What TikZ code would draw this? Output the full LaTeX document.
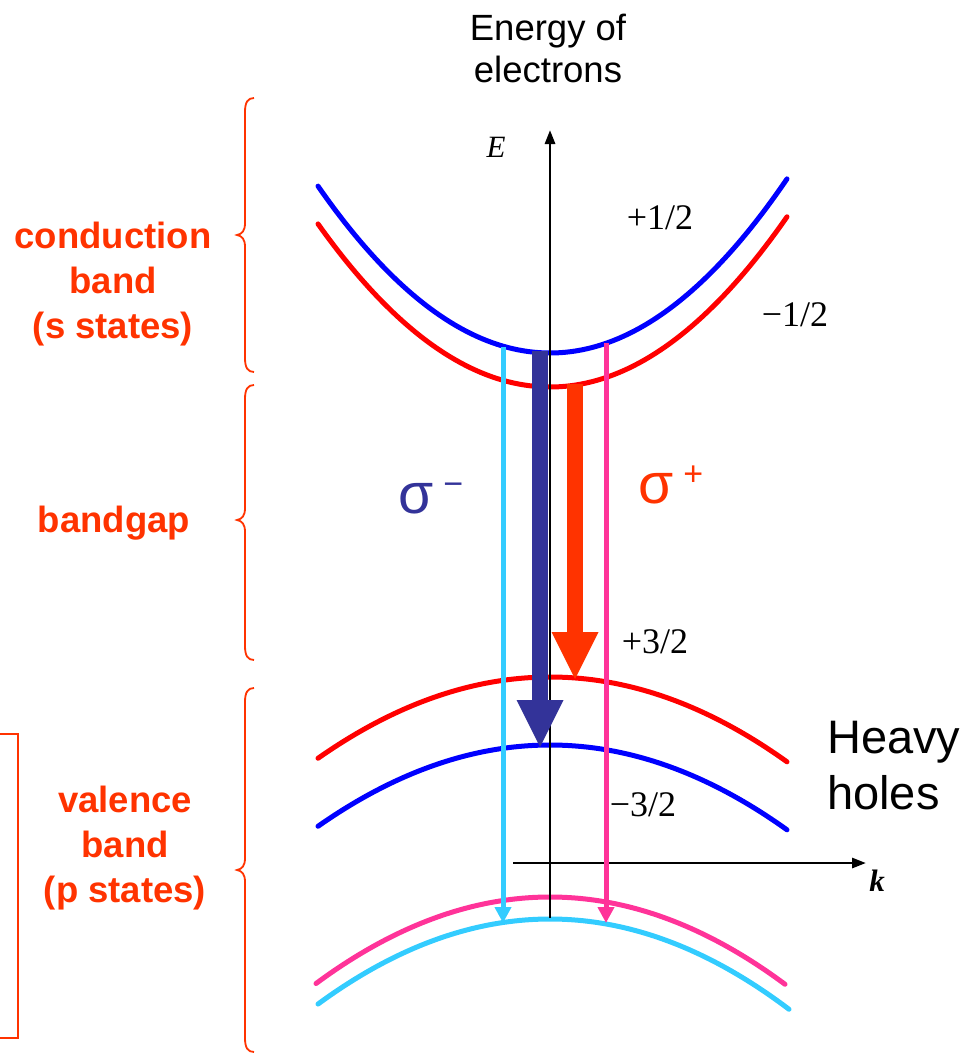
\documentclass[tikz,border=0pt]{standalone}
\usepackage{fontspec}
\setmainfont{Liberation Serif}
\newfontfamily\arialfam{Liberation Sans}
\usetikzlibrary{arrows.meta}
\definecolor{lblorange}{HTML}{FF3300}
\definecolor{sigblue}{HTML}{333399}
\definecolor{lhcyan}{HTML}{33CCFF}
\definecolor{lhpink}{HTML}{FF3399}
\newcommand\bandbrace[3]{% top, tip, bottom
  \draw[bracestyle] (254,#1) .. controls (248,#1) and (245,{#1+4}) .. (245,{#1+14})
    -- (245,{#2-12}) .. controls (245,{#2-4}) and (242,{#2-1}) .. (237,#2)
    .. controls (242,{#2+1}) and (245,{#2+4}) .. (245,{#2+12})
    -- (245,{#3-14}) .. controls (245,{#3-4}) and (248,#3) .. (254,#3);}
\begin{document}
\begin{tikzpicture}[x=1pt,y=-1pt,
  band/.style={line width=5pt, line cap=round},
  bracestyle/.style={draw=lblorange, line width=1.8pt},
  bandlabel/.style={text=lblorange, font=\arialfam\bfseries\fontsize{36.5}{45}\selectfont, align=center, inner sep=0pt},
  spinlabel/.style={font=\fontsize{36}{40}\selectfont, inner sep=0pt},
  axisline/.style={line width=2.8pt, -{Triangle[length=14pt,width=10pt]}},
  thinarrow/.style={line width=5pt, -{Triangle[length=16pt,width=16pt]}},
  thickarrow/.style={line width=16pt, -{Triangle[length=47pt,width=47pt,line width=0pt]}}
]
\useasboundingbox (0,0) rectangle (967,1057);

% braces and bracket
\bandbrace{98}{235}{372}
\bandbrace{385}{520}{660}
\bandbrace{688}{870}{1052}
\draw[bracestyle] (0,734) -- (18,734) -- (18,1038) -- (0,1038);

% labels on the left
\node[bandlabel] (cb) at (113,284) {conduction\\band\\(s states)};
\node[bandlabel] (bg) at (114,523) {bandgap};
\node[bandlabel] (vb) at (125,848) {valence\\band\\(p states)};

% title
\node[font=\arialfam\fontsize{36.5}{42}\selectfont, align=center, inner sep=0pt] (title) at (548,48) {Energy of\\electrons};

% bands
\draw[band, blue] plot[domain=318:787, samples=90] (\x, {353-31*((\x-550)/100)*((\x-550)/100)});
\draw[band, red] plot[domain=318:787, samples=90] (\x, {387-30.3*((\x-550)/100)*((\x-550)/100)});
\draw[band, red] plot[domain=318:787, samples=90] (\x, {677+15.1*((\x-550)/100)*((\x-550)/100)});
\draw[band, blue] plot[domain=318:787, samples=90] (\x, {745+15.1*((\x-550)/100)*((\x-550)/100)});
\draw[band, lhpink] plot[domain=316:785, samples=90] (\x, {897+15.8*((\x-550)/100)*((\x-550)/100)});
\draw[band, lhcyan] plot[domain=318:789, samples=90] (\x, {919+15.8*((\x-550)/100)*((\x-550)/100)});

% axes
\coordinate (Ebot) at (550,918);
\coordinate (Etop) at (550,130);
\coordinate (kleft) at (513,863);
\coordinate (kright) at (866,863);
\draw[axisline] (Ebot) -- (Etop);
\draw[axisline] (kleft) -- (kright);
\node[font=\itshape\fontsize{31}{31}\selectfont, inner sep=0pt] (Elab) at (496,147) {E};
\node[font=\bfseries\itshape\fontsize{31}{31}\selectfont, inner sep=0pt] (klab) at (877,881) {k};

% spin labels
\node[spinlabel] (sp1) at (660,218) {+1/2};
\node[spinlabel] (sm1) at (795,315) {−1/2};
\node[spinlabel] (sp3) at (655,642) {+3/2};
\node[spinlabel] (sm3) at (643,805) {−3/2};

% heavy holes
\node[font=\arialfam\fontsize{47}{56}\selectfont, align=left, anchor=west, inner sep=0pt] (hh) at (827,766) {Heavy\\holes};

% thin transitions
\coordinate (cyTop) at (503,347);
\coordinate (cyBot) at (503,923);
\coordinate (pkTop) at (606,343);
\coordinate (pkBot) at (606,923);
\draw[thinarrow, lhcyan] (cyTop) -- (cyBot);
\draw[thinarrow, lhpink] (pkTop) -- (pkBot);

% thick transitions
\coordinate (smTop) at (540,351);
\coordinate (smBot) at (540,747);
\coordinate (spTop) at (575,384);
\coordinate (spBot) at (575,679);
\draw[thickarrow, sigblue] (smTop) -- (smBot);
\draw[thickarrow, lblorange] (spTop) -- (spBot);

% sigma labels
\node[text=sigblue, font=\arialfam\fontsize{57}{57}\selectfont, anchor=base west, inner sep=0pt] (sigm) at (398,513) {σ\hspace{10pt}\raisebox{18pt}{\fontsize{34}{34}\selectfont −}};
\node[text=lblorange, font=\arialfam\fontsize{57}{57}\selectfont, anchor=base west, inner sep=0pt] (sigp) at (638,503) {σ\hspace{10pt}\raisebox{18pt}{\fontsize{34}{34}\selectfont +}};
\end{tikzpicture}
\end{document}
